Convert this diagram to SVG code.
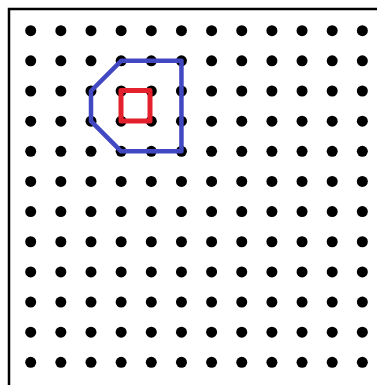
<svg xmlns="http://www.w3.org/2000/svg" width="377" height="385" viewBox="0 0 377 385">
<style>
.dot{fill:#000}
.frame{fill:none;stroke:#000;stroke-width:2.5}
.blue{fill:none;stroke:#4248c2;stroke-width:4.5;stroke-linejoin:round;stroke-linecap:round}
.red{fill:none;stroke:#e3202b;stroke-width:5;stroke-linejoin:round;stroke-linecap:round}
</style>
<defs><circle id="d" r="5.5" class="dot"/><g id="row"><use href="#d" x="30.7"/><use href="#d" x="60.85"/><use href="#d" x="91"/><use href="#d" x="121.15"/><use href="#d" x="151.3"/><use href="#d" x="181.45"/><use href="#d" x="211.6"/><use href="#d" x="241.75"/><use href="#d" x="271.9"/><use href="#d" x="302.05"/><use href="#d" x="332.2"/><use href="#d" x="362.35"/></g></defs>
<rect width="377" height="385" fill="#fff"/>
<rect class="frame" x="9" y="9" width="375" height="385"/>
<g id="grid">
<use href="#row" y="30.7"/><use href="#row" y="60.85"/><use href="#row" y="91"/><use href="#row" y="121.15"/><use href="#row" y="151.3"/><use href="#row" y="181.45"/><use href="#row" y="211.6"/><use href="#row" y="241.75"/><use href="#row" y="271.9"/><use href="#row" y="302.05"/><use href="#row" y="332.2"/><use href="#row" y="362.35"/>
</g>
<g id="shapes">
<polygon id="blue-shape" class="blue" points="121.15,60.85 181.45,60.85 181.45,151.3 121.15,151.3 91,121.15 91,91"/>
<rect id="red-square" class="red" x="121" y="90.5" width="29" height="30.5"/>
</g>
</svg>
